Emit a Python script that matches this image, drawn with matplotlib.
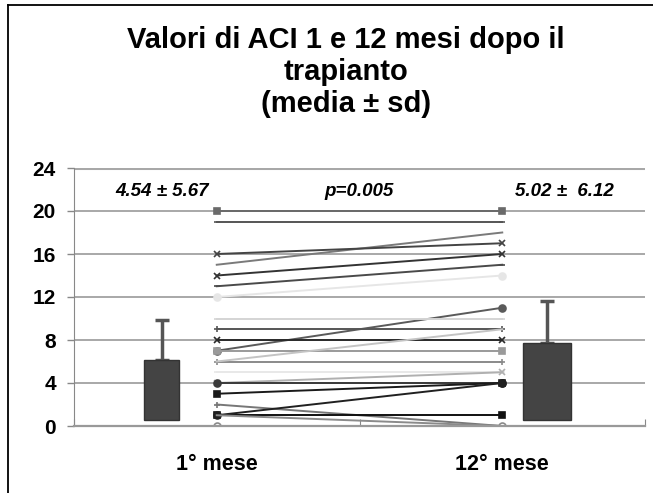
import numpy as np
import matplotlib
matplotlib.use("Agg")
import matplotlib.pyplot as plt
from matplotlib.lines import Line2D

plt.rcParams["font.family"] = ["Liberation Sans", "DejaVu Sans"]

# --- data ---
categories = ["1° mese", "12° mese"]
yticks = [0, 4, 8, 12, 16, 20, 24]

# paired values per patient (1st month, 12th month)
aci_1m = [20, 19, 15, 16, 14, 13, 12, 7, 10, 9, 8, 7, 6, 6, 5, 4, 4, 3, 2, 1, 1, 1, 0]
aci_12m = [20, 19, 18, 17, 16, 15, 14, 11, 10, 9, 8, 7, 6, 9, 5, 5, 4, 4, 0, 1, 4, 0, 0]

# bar summary (floating bars as drawn in the original)
bar_base = [0.6, 0.6]
bar_top = [6.1, 7.75]
err_top = [9.9, 11.6]
bar_text = ["4.54 \u00b1 5.67", "5.02 \u00b1  6.12"]
p_text = "p=0.005"

# styling per patient line
line_colors = ["#6a6a6a", "#555555", "#7a7a7a", "#444444", "#333333", "#4a4a4a",
               "#e6e6e6", "#5a5a5a", "#d4d4d4", "#555555", "#2a2a2a", "#9a9a9a",
               "#8a8a8a", "#c4c4c4", "#e8e8e8", "#b0b0b0", "#3a3a3a", "#1a1a1a",
               "#777777", "#111111", "#202020", "#8a8a8a", "#8a8a8a"]
line_markers = ["s", "_", "None", "x", "x", "_", "o", "o", "_", "+", "x", "s",
                "+", "None", "_", "x", "o", "s", "+", "s", "o", "None", "o"]

fig = plt.figure(figsize=(6.53, 4.93), dpi=100)
ax = fig.add_axes([74 / 653, 67 / 493, 571 / 653, 258 / 493])

x_pos = np.arange(len(categories))

for y in yticks[1:]:
    ax.axhline(y, color="#a8a8a8", lw=1.4 if y < 24 else 2.2, zorder=0)

for a, b, c, m in zip(aci_1m, aci_12m, line_colors, line_markers):
    mfc = c if m in ("s", "o") else "none"
    if m == "o" and c == "#8a8a8a":
        mfc = "white"
    ax.plot(x_pos, [a, b], color=c, lw=1.4, marker=m, ms=5,
            mfc=mfc, mec=c, mew=1.2, zorder=2)

# bars beside the paired lines
bar_x = [-0.193, 1.158]
bar_w = [0.125, 0.168]
heights = [t - b for t, b in zip(bar_top, bar_base)]
ax.bar(bar_x, heights, width=bar_w, bottom=bar_base, color="#444444",
       edgecolor="#333333", lw=1, zorder=3)
ax.errorbar(bar_x, bar_top, yerr=[[0, 0], [e - t for e, t in zip(err_top, bar_top)]],
            fmt="none", ecolor="#555555", elinewidth=2.5, capsize=5, capthick=2.5,
            zorder=2)

for x, s in zip([-0.19, 1.218], bar_text):
    ax.text(x, 21.8, s, ha="center", va="center", fontsize=13.5,
            fontweight="bold", fontstyle="italic")
ax.text(0.5, 21.8, p_text, ha="center", va="center", fontsize=13.5,
        fontweight="bold", fontstyle="italic")

ax.set_xlim(-0.5, 1.5)
ax.set_ylim(0, 24)
ax.set_yticks(yticks)
ax.set_yticklabels([str(v) for v in yticks], fontsize=15, fontweight="bold")
ax.tick_params(axis="y", length=5, width=1, color="#888888", pad=8)

ax.set_xticks([-0.5, 0.5, 1.5])
ax.set_xticklabels([])
ax.set_xticks(x_pos, minor=True)
ax.set_xticklabels(categories, minor=True, fontsize=15.5, fontweight="bold")
ax.tick_params(axis="x", which="major", length=5, color="#888888", direction="in")
ax.tick_params(axis="x", which="minor", length=0, pad=20)

for side in ("top", "right"):
    ax.spines[side].set_visible(False)
ax.spines["left"].set_color("#888888")
ax.spines["bottom"].set_color("#999999")
ax.spines["bottom"].set_linewidth(1.6)

fig.text(346 / 653, 1 - 72 / 493,
         "Valori di ACI 1 e 12 mesi dopo il\ntrapianto\n(media \u00b1 sd)",
         ha="center", va="center", fontsize=21, fontweight="bold", linespacing=1.2)

# frame (top and left edge of the slide)
fig.add_artist(Line2D([8 / 653, 8 / 653], [0, 1 - 5 / 493], color="black", lw=1.3,
                      transform=fig.transFigure))
fig.add_artist(Line2D([8 / 653, 1], [1 - 5 / 493, 1 - 5 / 493], color="black", lw=1.3,
                      transform=fig.transFigure))

fig.savefig("out.png", dpi=100, facecolor="white")
